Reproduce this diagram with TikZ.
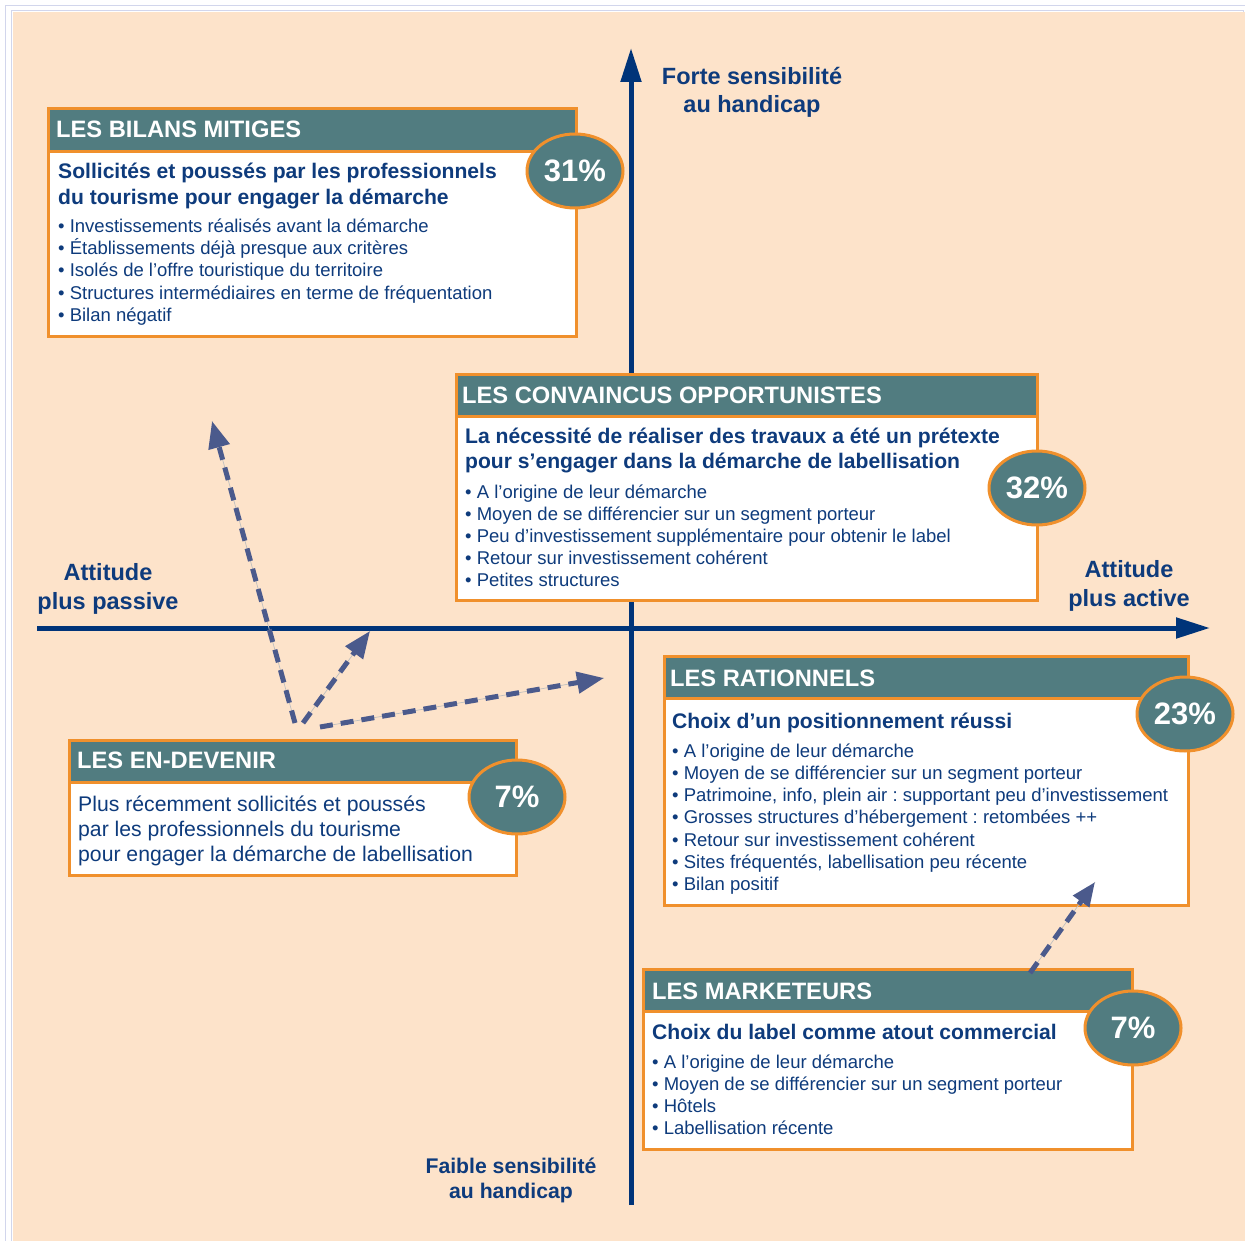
\documentclass[tikz,border=0pt]{standalone}
\usepackage{fontspec}
\setmainfont{Liberation Sans}
\usetikzlibrary{arrows.meta,shapes.geometric}
\definecolor{peach}{HTML}{FDE3CA}
\definecolor{teal}{HTML}{517C80}
\definecolor{orng}{HTML}{F0902C}
\definecolor{navy}{HTML}{0E3B7C}
\definecolor{axisc}{HTML}{003479}
\definecolor{dashc}{HTML}{4B5A8C}
\definecolor{lav}{HTML}{D2D6EC}
\frenchspacing
\begin{document}
\begin{tikzpicture}[x=1pt,y=-1pt,
  hdr/.style={fill=teal,draw=orng,line width=3pt},
  body/.style={fill=white,draw=orng,line width=3pt},
  badge/.style={ellipse,fill=teal,draw=orng,line width=3pt,minimum width=96pt,minimum height=74pt,inner sep=0pt,text=white,font=\fontsize{31}{31}\selectfont\bfseries},
  ttl/.style={anchor=base west,inner sep=0pt,text=white,font=\fontsize{23.7}{23.7}\selectfont\bfseries},
  sub/.style={anchor=base west,inner sep=0pt,text=navy,font=\fontsize{21.1}{21.1}\selectfont\bfseries},
  bul/.style={anchor=base west,inner sep=0pt,text=navy,font=\fontsize{18.5}{18.5}\selectfont},
  reg/.style={anchor=base west,inner sep=0pt,text=navy,font=\fontsize{21.2}{21.2}\selectfont},
  axlbl/.style={anchor=base,inner sep=0pt,text=navy,font=\fontsize{23.5}{23.5}\selectfont\bfseries},
  axline/.style={draw=axisc,line width=5pt,-{Triangle[length=34pt,width=20pt]}},
  dasharrow/.style={draw=dashc,line width=5pt,dash pattern=on 13pt off 8pt,-{Triangle[length=27pt,width=21pt]}},
  guide/.style={draw=black!25,line width=0.7pt}
]
\useasboundingbox (0,0) rectangle (1245,1241);
\fill[white] (0,0) rectangle (1245,1241);
\draw[lav,line width=1pt] (5.5,1241) -- (5.5,5.5) -- (1245,5.5);
\draw[lav,line width=1pt] (11,1241) -- (11,11) -- (1243,11) -- (1243,1241);
\fill[peach] (12.5,12.5) rectangle (1245,1241);

% axes
\coordinate (vb) at (631,1205);
\coordinate (vt) at (631,48);
\coordinate (hl) at (37,628);
\coordinate (hr) at (1210,628);
\draw[axline] (vb) -- (vt);
\draw[axline] (hl) -- (hr);

% axis labels
\node[axlbl] (f1) at (752,85) {Forte sensibilité};
\node[axlbl] (f2) at (752,113) {au handicap};
\node[axlbl] (p1) at (108,580) {Attitude};
\node[axlbl] (p2) at (108,609) {plus passive};
\node[axlbl] (a1) at (1129,577) {Attitude};
\node[axlbl] (a2) at (1129,606) {plus active};
\node[axlbl,font=\fontsize{21.2}{21.2}\selectfont\bfseries] (w1) at (511,1173) {Faible sensibilité};
\node[axlbl,font=\fontsize{21.2}{21.2}\selectfont\bfseries] (w2) at (511,1198) {au handicap};

% dashed arrows (left group)
\coordinate (o1) at (295,723);
\coordinate (t1) at (212,421);
\coordinate (o2) at (303,723);
\coordinate (t2) at (370,631);
\coordinate (o3) at (320,727);
\coordinate (t3) at (604,678);
\foreach \a/\b in {o1/t1,o2/t2,o3/t3}{
  \draw[guide] (\a) -- (\b);
  \draw[dasharrow] (\a) -- (\b);
}

% Box 1: LES BILANS MITIGES
\node[body,anchor=north west,minimum width=528pt,minimum height=228pt] (b1) at (47,107) {};
\node[hdr,anchor=north west,minimum width=528pt,minimum height=43pt] (h1) at (47,107) {};
\node[ttl] (t1a) at (56,138) {LES BILANS MITIGES};
\node[sub] (s1a) at (58,179) {Sollicités et poussés par les professionnels};
\node[sub] (s1b) at (58,205) {du tourisme pour engager la démarche};
\node[bul] (l1a) at (58,233) {• Investissements réalisés avant la démarche};
\node[bul] (l1b) at (58,255) {• Établissements déjà presque aux critères};
\node[bul] (l1c) at (58,277) {• Isolés de l’offre touristique du territoire};
\node[bul] (l1d) at (58,300) {• Structures intermédiaires en terme de fréquentation};
\node[bul] (l1e) at (58,322) {• Bilan négatif};
\node[badge] (e1) at (575,171) {31\%};

% Box 2: LES CONVAINCUS OPPORTUNISTES
\node[body,anchor=north west,minimum width=581pt,minimum height=226pt] (b2) at (455,373) {};
\node[hdr,anchor=north west,minimum width=581pt,minimum height=42pt] (h2) at (455,373) {};
\node[ttl] (t2a) at (462,403) {LES CONVAINCUS OPPORTUNISTES};
\node[sub] (s2a) at (465,443) {La nécessité de réaliser des travaux a été un prétexte};
\node[sub] (s2b) at (465,468) {pour s’engager dans la démarche de labellisation};
\node[bul] (l2a) at (465,498) {• A l’origine de leur démarche};
\node[bul] (l2b) at (465,520) {• Moyen de se différencier sur un segment porteur};
\node[bul] (l2c) at (465,542) {• Peu d’investissement supplémentaire pour obtenir le label};
\node[bul] (l2d) at (465,564) {• Retour sur investissement cohérent};
\node[bul] (l2e) at (465,586) {• Petites structures};
\node[badge] (e2) at (1037,488) {32\%};

% Box 3: LES RATIONNELS
\node[body,anchor=north west,minimum width=524pt,minimum height=249pt] (b3) at (663,655) {};
\node[hdr,anchor=north west,minimum width=524pt,minimum height=42pt] (h3) at (663,655) {};
\node[ttl] (t3a) at (670,686) {LES RATIONNELS};
\node[sub] (s3a) at (672,728) {Choix d’un positionnement réussi};
\node[bul] (l3a) at (672,757) {• A l’origine de leur démarche};
\node[bul] (l3b) at (672,779) {• Moyen de se différencier sur un segment porteur};
\node[bul] (l3c) at (672,801) {• Patrimoine, info, plein air : supportant peu d’investissement};
\node[bul] (l3d) at (672,823) {• Grosses structures d’hébergement : retombées ++};
\node[bul] (l3e) at (672,846) {• Retour sur investissement cohérent};
\node[bul] (l3f) at (672,868) {• Sites fréquentés, labellisation peu récente};
\node[bul] (l3g) at (672,890) {• Bilan positif};
\node[badge] (e3) at (1185,714) {23\%};

% Box 4: LES EN-DEVENIR
\node[body,anchor=north west,minimum width=447pt,minimum height=135pt] (b4) at (68,739) {};
\node[hdr,anchor=north west,minimum width=447pt,minimum height=42pt] (h4) at (68,739) {};
\node[ttl] (t4a) at (77,768) {LES EN-DEVENIR};
\node[reg] (r4a) at (78,811) {Plus récemment sollicités et poussés};
\node[reg] (r4b) at (78,836) {par les professionnels du tourisme};
\node[reg] (r4c) at (78,861) {pour engager la démarche de labellisation};
\node[badge] (e4) at (517,797) {7\%};

% Box 5: LES MARKETEURS
\node[body,anchor=north west,minimum width=489pt,minimum height=180pt] (b5) at (642,968) {};
\node[hdr,anchor=north west,minimum width=489pt,minimum height=42pt] (h5) at (642,968) {};
\node[ttl] (t5a) at (652,999) {LES MARKETEURS};
\node[sub] (s5a) at (652,1039) {Choix du label comme atout commercial};
\node[bul] (l5a) at (652,1068) {• A l’origine de leur démarche};
\node[bul] (l5b) at (652,1090) {• Moyen de se différencier sur un segment porteur};
\node[bul] (l5c) at (652,1112) {• Hôtels};
\node[bul] (l5d) at (652,1134) {• Labellisation récente};
\node[badge] (e5) at (1133,1028) {7\%};

% dashed arrow from MARKETEURS towards RATIONNELS (drawn on top)
\coordinate (o4) at (1030,973);
\coordinate (t4) at (1095,882);
\draw[guide] (o4) -- (t4);
\draw[dasharrow,-{Triangle[length=24pt,width=19pt]}] (o4) -- (t4);
\end{tikzpicture}
\end{document}
